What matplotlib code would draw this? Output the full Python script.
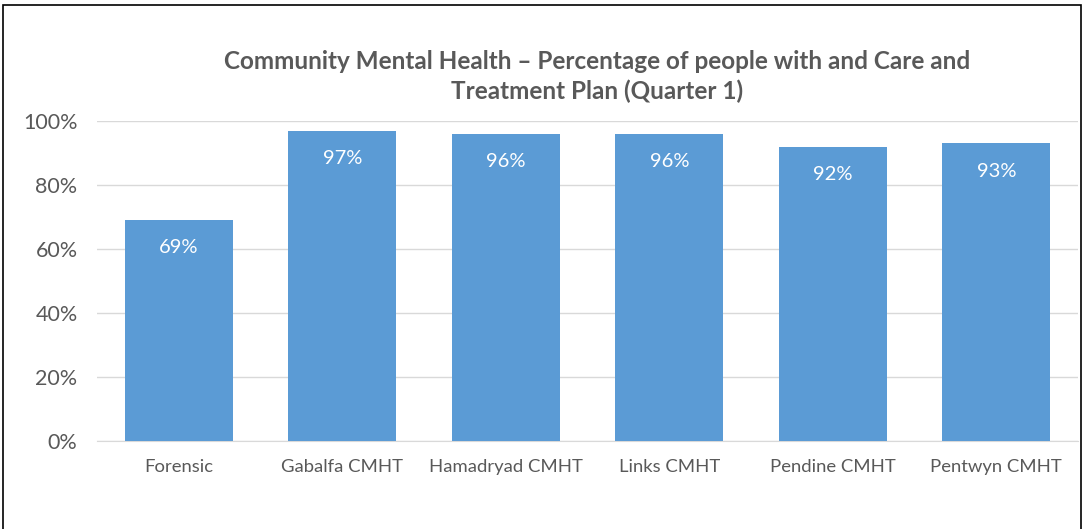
import matplotlib.pyplot as plt
from matplotlib.patches import Rectangle

# Datos del gráfico
teams = ['Forensic', 'Gabalfa CMHT', 'Hamadryad CMHT', 'Links CMHT', 'Pendine CMHT', 'Pentwyn CMHT']
percent = [69, 97, 96, 96, 92, 93]

plt.rcParams['font.family'] = ['Lato', 'DejaVu Sans']

fig = plt.figure(figsize=(10.9, 5.29), dpi=100)
ax = fig.add_axes([0.089, 0.1664, 0.9, 0.605])

bars = ax.bar(range(len(teams)), percent, width=0.66, color='#5B9BD5', zorder=3)
for i, v in enumerate(percent):
    ax.text(i, v - 8.7, f'{v}%', ha='center', va='center', color='white', fontsize=14.5)

ax.set_ylim(0, 100)
ax.set_xlim(-0.5, len(teams) - 0.5)
ax.set_yticks(range(0, 101, 20))
ax.set_yticklabels([f'{t}%' for t in range(0, 101, 20)])
ax.set_xticks(range(len(teams)))
ax.set_xticklabels(teams)
ax.tick_params(axis='both', length=0, colors='#595959')
ax.tick_params(axis='x', pad=13, labelsize=13.3)
ax.tick_params(axis='y', pad=14, labelsize=15.5)
ax.grid(axis='y', color='#D9D9D9', linewidth=1, zorder=0)
for s in ['top', 'right', 'left']:
    ax.spines[s].set_visible(False)
ax.spines['bottom'].set_color('#D9D9D9')

fig.text(0.548, 0.855, 'Community Mental Health \u2013 Percentage of people with and Care and\nTreatment Plan (Quarter 1)',
         ha='center', va='center', fontsize=17.5, fontweight='bold', color='#595959', linespacing=1.35)

# marco exterior
fig.patches.append(Rectangle((0.003, -0.01), 0.989, 1.0, transform=fig.transFigure,
                             fill=False, edgecolor='black', linewidth=1.2))

fig.savefig('out.png', dpi=100)
